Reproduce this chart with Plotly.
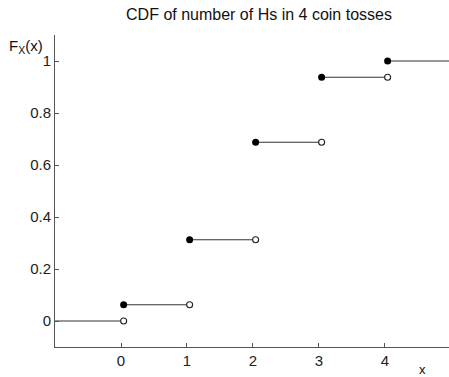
import plotly.graph_objects as go

# Data: CDF of number of heads in 4 fair coin tosses
k_values = [0, 1, 2, 3, 4]
cdf_values = [1/16, 5/16, 11/16, 15/16, 1.0]
x_ticks = [0, 1, 2, 3, 4]
y_ticks = [0, 0.2, 0.4, 0.6, 0.8, 1]
y_tick_labels = ["0", "0.2", "0.4", "0.6", "0.8", "1"]

off = 0.04  # small horizontal drawing offset seen in the reference
x_min, x_max = -1, 4.97

fig = go.Figure()

# horizontal step segments
seg_x, seg_y = [], []
seg_x += [x_min, 0 + off, None]
seg_y += [0, 0, None]
for i, (k, f) in enumerate(zip(k_values, cdf_values)):
    end = k + 1 + off if i < len(k_values) - 1 else 6
    seg_x += [k + off, end, None]
    seg_y += [f, f, None]
fig.add_trace(go.Scatter(x=seg_x, y=seg_y, mode="lines",
                         line=dict(color="#333333", width=1.1),
                         hoverinfo="skip", showlegend=False, cliponaxis=True))

# open circles (right-limit excluded values)
open_x = [k + off for k in k_values]
open_y = [0] + cdf_values[:-1]
fig.add_trace(go.Scatter(x=open_x, y=open_y, mode="markers",
                         marker=dict(symbol="circle", size=6, color="white",
                                     line=dict(color="#222222", width=1.1)),
                         showlegend=False))

# filled dots
fig.add_trace(go.Scatter(x=[k + off for k in k_values], y=cdf_values, mode="markers",
                         marker=dict(symbol="circle", size=7, color="black"),
                         showlegend=False))

font = "Liberation Sans, Arial, sans-serif"
fig.update_layout(
    width=449, height=377,
    margin=dict(l=55, r=0, t=35, b=30),
    paper_bgcolor="white", plot_bgcolor="white",
    font=dict(family=font, size=15, color="#222222"),
    title=dict(text="CDF of number of Hs in 4 coin tosses", x=(259 / 449), xanchor="center",
               y=1 - 14 / 377, yanchor="middle",
               font=dict(family=font, size=16, color="#111111")),
    xaxis=dict(range=[x_min, x_max], tickvals=x_ticks, ticktext=[str(t) for t in x_ticks],
               showgrid=False, zeroline=False, showline=True, linecolor="#555555",
               linewidth=1, ticks="inside", ticklen=4, tickcolor="#555555",
               tickfont=dict(size=15), automargin=False),
    yaxis=dict(range=[-0.1, 1.1], tickvals=y_ticks, ticktext=y_tick_labels,
               showgrid=False, zeroline=False, showline=True, linecolor="#555555",
               linewidth=1, ticks="inside", ticklen=4, tickcolor="#555555",
               tickfont=dict(size=15), automargin=False),
    annotations=[
        dict(text="F<sub>X</sub>(x)", xref="paper", yref="paper",
             x=(7 - 55) / 394, y=1 + (35 - 47) / 312, xanchor="left", yanchor="middle",
             showarrow=False, font=dict(family=font, size=15, color="#111111")),
        dict(text="x", xref="paper", yref="paper",
             x=(422 - 55) / 394, y=-(379 - 347) / 312, xanchor="center", yanchor="bottom",
             showarrow=False, font=dict(family=font, size=13, color="#111111")),
    ],
)

fig.write_html("out.html")
